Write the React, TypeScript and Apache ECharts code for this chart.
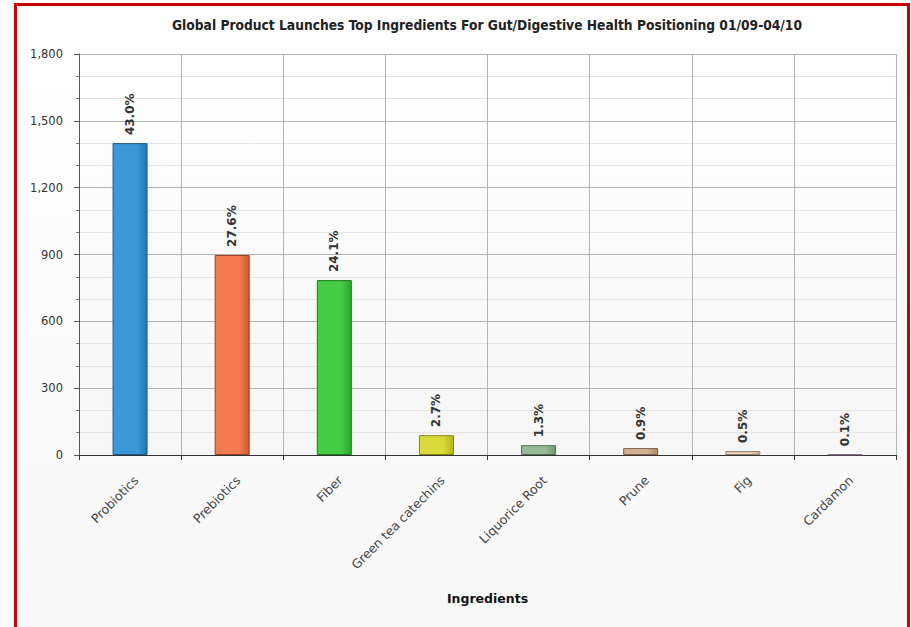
import React, { useEffect, useRef } from "react";
import * as echarts from "echarts";

// Ingredient categories and launch counts
const ingredients = [
  "Probiotics",
  "Prebiotics",
  "Fiber",
  "Green tea catechins",
  "Liquorice Root",
  "Prune",
  "Fig",
  "Cardamon",
];
const launches = [1400, 898, 785, 89, 44, 31, 18, 3];
const shareLabels = ["43.0%", "27.6%", "24.1%", "2.7%", "1.3%", "0.9%", "0.5%", "0.1%"];

// Bar fill (light, dark) and outline colours per ingredient
const barLight = ["#3a98d8", "#f47a50", "#44cc44", "#dada3a", "#94bc94", "#d4b090", "#e6d2bc", "#d8c0d8"];
const barDark = ["#2276b0", "#d25a30", "#28a828", "#b4b418", "#6e9a6e", "#ae8a68", "#c4ac94", "#b89ab8"];
const barEdge = ["#1a5a88", "#9a3e1e", "#1c7a1c", "#84840e", "#4e704e", "#806048", "#968270", "#8a6a8a"];

const yTicks = { min: 0, max: 1800, interval: 300 };

const FONT = "'DejaVu Sans', Tahoma, Verdana, sans-serif";

export default function App() {
  const ref = useRef<HTMLDivElement>(null);

  useEffect(() => {
    if (!ref.current) return;
    const chart = echarts.init(ref.current, undefined, { renderer: "svg" });

    const data = launches.map((v, i) => ({
      value: v,
      itemStyle: {
        color: new echarts.graphic.LinearGradient(0, 0, 1, 0, [
          { offset: 0, color: barLight[i] },
          { offset: 0.7, color: barLight[i] },
          { offset: 1, color: barDark[i] },
        ]),
        borderColor: barEdge[i],
        borderWidth: 1,
      },
      label: { formatter: shareLabels[i] },
    }));

    chart.setOption({
      animation: false,
      backgroundColor: "#ffffff",
      graphic: [
        {
          type: "rect",
          z: -10,
          silent: true,
          shape: { x: 16, y: 5, width: 891, height: 622 },
          style: {
            fill: new echarts.graphic.LinearGradient(0, 0, 0, 1, [
              { offset: 0, color: "#ffffff" },
              { offset: 1, color: "#f7f7f7" },
            ]),
          },
        },
        // red frame
        { type: "rect", shape: { x: 14, y: 3, width: 3, height: 624 }, style: { fill: "#cc0000" }, z: 10 },
        { type: "rect", shape: { x: 14, y: 3, width: 896, height: 3 }, style: { fill: "#cc0000" }, z: 10 },
        { type: "rect", shape: { x: 907, y: 3, width: 3, height: 624 }, style: { fill: "#cc0000" }, z: 10 },
        {
          type: "text",
          x: 487,
          y: 25,
          style: {
            text: "Global Product Launches Top Ingredients For Gut/Digestive Health Positioning 01/09-04/10",
            fontFamily: "'DejaVu Sans Condensed', 'DejaVu Sans', sans-serif",
            fontWeight: "bold",
            fontSize: 13.7,
            fill: "#222222",
            align: "center",
            verticalAlign: "middle",
          },
        },
      ],
      grid: {
        left: 79,
        right: 15,
        top: 54,
        bottom: 172,
        show: true,
        borderWidth: 0,
        backgroundColor: new echarts.graphic.LinearGradient(0, 0, 0, 1, [
          { offset: 0, color: "#ffffff" },
          { offset: 1, color: "#f6f6f6" },
        ]),
      },
      xAxis: {
        type: "category",
        data: ingredients,
        name: "Ingredients",
        nameLocation: "middle",
        nameGap: 137,
        nameTextStyle: { fontFamily: FONT, fontWeight: "bold", fontSize: 12.5, color: "#111111" },
        axisLine: { lineStyle: { color: "#333333", width: 1 } },
        axisTick: { show: true, length: 5, lineStyle: { color: "#333333" } },
        splitLine: { show: true, lineStyle: { color: "#b4b4b4", width: 1 } },
        axisLabel: {
          rotate: 45,
          margin: 17,
          verticalAlign: "top",
          padding: [2, 0, 0, 0],
          fontFamily: FONT,
          fontSize: 12.5,
          color: "#444444",
          interval: 0,
        },
      },
      yAxis: {
        type: "value",
        min: yTicks.min,
        max: yTicks.max,
        interval: yTicks.interval,
        axisLine: { show: true, lineStyle: { color: "#555555" } },
        axisTick: { show: true, length: 5, lineStyle: { color: "#555555" } },
        minorTick: { show: true, splitNumber: 3, length: 3, lineStyle: { color: "#777777" } },
        splitLine: { show: true, lineStyle: { color: "#b4b4b4", width: 1 } },
        minorSplitLine: { show: true, lineStyle: { color: "#e4e4e4", width: 1 } },
        axisLabel: {
          margin: 16,
          fontFamily: FONT,
          fontSize: 11.5,
          color: "#333333",
          formatter: (v: number) => v.toLocaleString("en-US"),
        },
      },
      series: [
        {
          type: "bar",
          data,
          barWidth: 35,
          label: {
            show: true,
            position: "top",
            rotate: 90,
            align: "left",
            verticalAlign: "middle",
            distance: 8,
            fontFamily: FONT,
            fontWeight: "bold",
            fontSize: 12,
            color: "#333333",
          },
        },
      ],
    });

    return () => chart.dispose();
  }, []);

  return (
    <div
      ref={ref}
      style={{ position: "fixed", left: 0, top: 0, width: 911, height: 627 }}
    />
  );
}
